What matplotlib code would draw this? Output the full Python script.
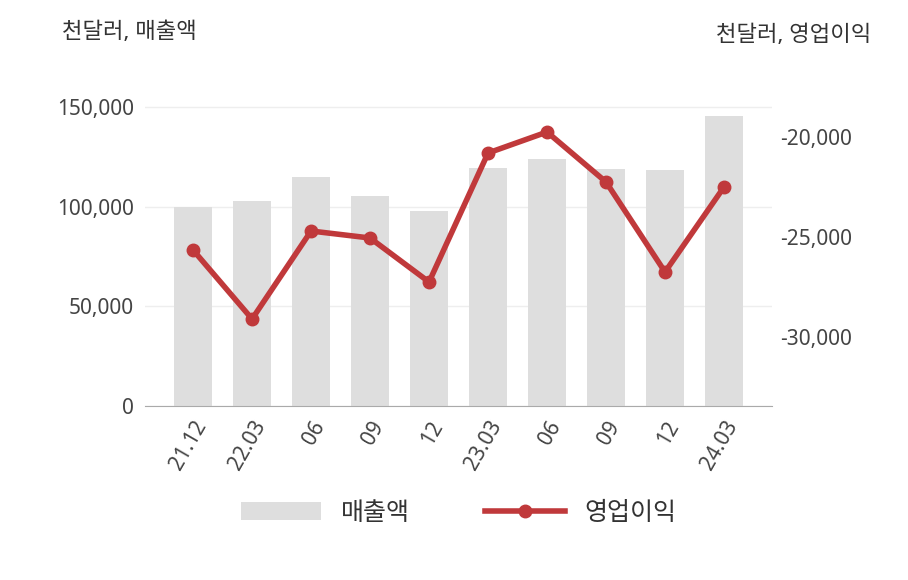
import matplotlib
matplotlib.use("Agg")
import matplotlib.pyplot as plt

plt.rcParams['font.family'] = ['Noto Sans', 'Noto Sans CJK KR', 'DejaVu Sans']

labels = ["21.12", "22.03", "06", "09", "12", "23.03", "06", "09", "12", "24.03"]
sales = [100000, 103000, 115000, 105500, 98000, 119500, 124000, 119000, 118500, 145500]
op_income = [-25650, -29100, -24700, -25050, -27250, -20800, -19750, -22250, -26750, -22500]

fig = plt.figure(figsize=(9.08, 5.8), dpi=100)
ax = fig.add_axes([0.160, 0.300, 0.690, 0.550])
x = range(len(labels))

ax.bar(x, sales, width=0.64, color="#dedede", label="매출액", zorder=2)
ax.set_ylim(0, 160000)
ax.set_yticks([0, 50000, 100000, 150000])
ax.set_yticklabels(["0", "50,000", "100,000", "150,000"])
ax.grid(axis="y", color="#eeeeee", linewidth=1, zorder=0)
ax.set_xlim(-0.81, len(labels) - 1 + 0.81)
ax.set_xticks(list(x))
ax.set_xticklabels(labels, rotation=60, ha="right", rotation_mode="anchor")
for s in ["top", "left", "right"]:
    ax.spines[s].set_visible(False)
ax.spines["bottom"].set_color("#aaaaaa")
ax.tick_params(axis="both", length=0, labelsize=15, colors="#444444", pad=8)

ax2 = ax.twinx()
ax2.plot(list(x), op_income, color="#c0393b", linewidth=4, marker="o", markersize=9,
         label="영업이익", zorder=3)
ax2.set_ylim(-33450, -17500)
ax2.set_yticks([-30000, -25000, -20000])
ax2.set_yticklabels(["-30,000", "-25,000", "-20,000"])
for s in ["top", "left", "right", "bottom"]:
    ax2.spines[s].set_visible(False)
ax2.tick_params(axis="y", length=0, labelsize=15, colors="#444444", pad=6)

fig.text(0.068, 0.935, "천달러, 매출액", fontsize=16, color="#333333")
fig.text(0.96, 0.93, "천달러, 영업이익", fontsize=16, color="#333333", ha="right")

h1, l1 = ax.get_legend_handles_labels()
h2, l2 = ax2.get_legend_handles_labels()
fig.legend(h1 + h2, l1 + l2, loc="center", bbox_to_anchor=(0.505, 0.115), ncol=2,
           frameon=False, fontsize=18, handlelength=3.2, columnspacing=3,
           labelcolor="#333333")

fig.savefig("out.png", dpi=100)
